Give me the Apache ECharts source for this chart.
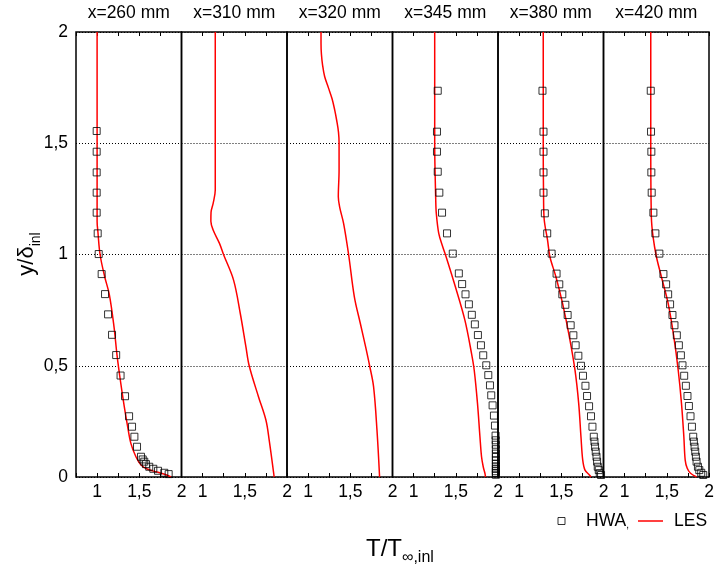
<!DOCTYPE html>
<html><head><meta charset="utf-8">
<script src="https://cdn.jsdelivr.net/npm/echarts@6/dist/echarts.min.js"></script>
<style>html,body{margin:0;padding:0;background:#fff}#c{width:714px;height:571px}</style>
</head><body><div id="c"></div>
<script>
const panelTitles = ['x=260 mm','x=310 mm','x=320 mm','x=345 mm','x=380 mm','x=420 mm'];
const xTickLabels = {1:'1', 1.5:'1,5', 2:'2'};
const yTickLabels = {0:'0', 0.5:'0,5', 1:'1', 1.5:'1,5', 2:'2'};

const hwa260 = [[0.995,1.555],[0.995,1.462],[0.995,1.369],[0.995,1.278],[0.995,1.188],[1.007,1.095],[1.019,1.002],[1.054,0.912],[1.094,0.822],[1.13,0.731],[1.177,0.639],[1.226,0.548],[1.278,0.456],[1.331,0.363],[1.379,0.273],[1.414,0.226],[1.442,0.181],[1.473,0.136],[1.52,0.091],[1.54,0.079],[1.559,0.069],[1.579,0.058],[1.618,0.046],[1.666,0.037],[1.722,0.028],[1.796,0.019],[1.848,0.013]];
const hwa310 = [];
const hwa320 = [];
const hwa345 = [[1.286,1.736],[1.277,1.552],[1.277,1.462],[1.286,1.372],[1.305,1.278],[1.337,1.188],[1.396,1.095],[1.464,1.004],[1.536,0.915],[1.575,0.867],[1.615,0.821],[1.655,0.776],[1.69,0.729],[1.726,0.686],[1.762,0.638],[1.798,0.592],[1.825,0.547],[1.861,0.502],[1.885,0.458],[1.905,0.412],[1.92,0.367],[1.936,0.322],[1.952,0.276],[1.964,0.231],[1.971,0.186],[1.973,0.165],[1.974,0.145],[1.975,0.125],[1.975,0.105],[1.975,0.09],[1.975,0.075],[1.975,0.06],[1.975,0.048],[1.975,0.036],[1.975,0.026],[1.975,0.018],[1.975,0.01]];
const hwa380 = [[1.277,1.736],[1.289,1.552],[1.289,1.462],[1.289,1.369],[1.289,1.278],[1.305,1.185],[1.333,1.095],[1.385,1.004],[1.444,0.914],[1.476,0.866],[1.512,0.821],[1.548,0.774],[1.575,0.728],[1.611,0.682],[1.643,0.637],[1.67,0.592],[1.702,0.545],[1.733,0.5],[1.757,0.455],[1.786,0.41],[1.805,0.364],[1.829,0.318],[1.852,0.273],[1.869,0.226],[1.885,0.181],[1.893,0.159],[1.9,0.136],[1.908,0.114],[1.917,0.091],[1.924,0.069],[1.932,0.046],[1.944,0.031],[1.956,0.017],[1.971,0.009]];
const hwa420 = [[1.31,1.736],[1.313,1.552],[1.317,1.462],[1.317,1.369],[1.321,1.278],[1.341,1.188],[1.365,1.095],[1.412,1.004],[1.46,0.912],[1.492,0.866],[1.516,0.821],[1.539,0.776],[1.567,0.728],[1.591,0.682],[1.619,0.637],[1.643,0.592],[1.667,0.547],[1.686,0.502],[1.706,0.455],[1.726,0.41],[1.745,0.364],[1.762,0.319],[1.781,0.273],[1.798,0.226],[1.813,0.181],[1.821,0.159],[1.829,0.136],[1.837,0.114],[1.845,0.091],[1.853,0.069],[1.869,0.046],[1.885,0.031],[1.908,0.019],[1.932,0.009]];

const les260 = [[1.0,2.0],[1.0,1.5],[1.0,1.15],[1.01,1.1],[1.035,1.0],[1.09,0.9],[1.145,0.82],[1.2,0.676],[1.236,0.548],[1.275,0.436],[1.322,0.316],[1.362,0.226],[1.40,0.151],[1.46,0.091],[1.52,0.054],[1.6,0.035],[1.72,0.021],[1.80,0.012],[1.876,0.0]];
const les310 = [[1.15,2.0],[1.15,1.5],[1.15,1.29],[1.125,1.23],[1.10,1.19],[1.098,1.15],[1.125,1.11],[1.20,1.05],[1.248,1.0],[1.367,0.885],[1.446,0.736],[1.513,0.586],[1.552,0.5],[1.662,0.361],[1.75,0.256],[1.789,0.166],[1.848,0.0]];
const les320 = [[1.153,2.0],[1.153,1.95],[1.158,1.9],[1.172,1.85],[1.196,1.8],[1.24,1.75],[1.284,1.7],[1.315,1.65],[1.34,1.6],[1.36,1.55],[1.367,1.5],[1.367,1.38],[1.358,1.26],[1.374,1.213],[1.421,1.139],[1.48,1.0],[1.548,0.81],[1.619,0.69],[1.681,0.586],[1.729,0.5],[1.776,0.405],[1.816,0.211],[1.847,0.0]];
const les345 = [[1.25,2.0],[1.25,1.5],[1.262,1.25],[1.269,1.185],[1.298,1.095],[1.345,1.035],[1.385,0.99],[1.495,0.855],[1.607,0.706],[1.686,0.556],[1.718,0.481],[1.757,0.331],[1.786,0.181],[1.805,0.091],[1.825,0.046],[1.845,0.017],[1.852,0.0]];
const les380 = [[1.286,2.0],[1.286,1.5],[1.29,1.25],[1.298,1.155],[1.337,1.065],[1.365,0.99],[1.436,0.9],[1.515,0.78],[1.595,0.631],[1.662,0.481],[1.706,0.331],[1.733,0.181],[1.754,0.076],[1.781,0.031],[1.833,0.009],[1.852,0.0]];
const les420 = [[1.31,2.0],[1.31,1.5],[1.317,1.17],[1.337,1.08],[1.377,0.99],[1.436,0.9],[1.516,0.78],[1.583,0.631],[1.635,0.481],[1.674,0.331],[1.702,0.181],[1.718,0.076],[1.742,0.039],[1.781,0.017],[1.853,0.0]];

const hwaSets = [hwa260, hwa310, hwa320, hwa345, hwa380, hwa420];
const lesSets = [les260, les310, les320, les345, les380, les420];

const FONT = '"Liberation Sans", Arial, Helvetica, sans-serif';
const FS = 17.5;
const L0 = 76, PW = 105.5, TOP = 32, PH = 445;
const grids = [], xAxes = [], yAxes = [], series = [], graphics = [];
for (let i = 0; i < 6; i++) {
  grids.push({left: L0 + i * PW, top: TOP, width: PW, height: PH, show: true,
    borderColor: '#000', borderWidth: 1.5, backgroundColor: 'transparent', containLabel: false, outerBoundsMode: 'none'});
  xAxes.push({type: 'value', gridIndex: i, position: 'bottom', min: 0.75, max: 2, interval: 0.25,
    axisLine: {show: false}, splitLine: {show: false},
    axisTick: {show: true, inside: true, length: 4, lineStyle: {color: '#000', width: 1}},
    axisLabel: {show: true, interval: 0, hideOverlap: false, margin: 6, color: '#000', fontSize: FS, fontFamily: FONT,
      formatter: v => xTickLabels[v] || ''}});
  xAxes.push({type: 'value', gridIndex: i, position: 'top', min: 0.75, max: 2, interval: 0.25,
    axisLine: {show: false}, splitLine: {show: false},
    axisTick: {show: true, inside: true, length: 4, lineStyle: {color: '#000', width: 1}},
    axisLabel: {show: false}});
  yAxes.push({type: 'value', gridIndex: i, min: 0, max: 2, interval: 0.5,
    axisLine: {show: false}, axisTick: {show: false},
    splitLine: {show: true, lineStyle: {color: '#000', width: 1, type: [1, 2]}},
    axisLabel: {show: i === 0, margin: 8, color: '#000', fontSize: FS, fontFamily: FONT,
      formatter: v => yTickLabels[v] !== undefined ? yTickLabels[v] : ''}});
  series.push({name: 'LES', type: 'line', xAxisIndex: 2 * i, yAxisIndex: i, data: lesSets[i],
    symbol: 'none', showSymbol: false, smooth: 0.35, z: 2,
    lineStyle: {color: '#ff0000', width: 1.5}, itemStyle: {color: '#ff0000'}});
  if (hwaSets[i].length) {
    series.push({name: 'HWA', type: 'scatter', xAxisIndex: 2 * i, yAxisIndex: i, data: hwaSets[i],
      symbol: 'rect', symbolSize: 7, z: 3,
      itemStyle: {color: 'rgba(0,0,0,0)', borderColor: '#000', borderWidth: 1}});
  }
  graphics.push({type: 'text', x: L0 + i * PW + PW / 2, y: 13,
    style: {text: panelTitles[i], fill: '#000', fontSize: FS, fontFamily: FONT, align: 'center', verticalAlign: 'middle'}});
}
graphics.push({type: 'text', x: 366, y: 549,
  style: {text: '{a|T/T}{b|∞,inl}', align: 'left', verticalAlign: 'middle',
    rich: {a: {fontSize: 24, fontFamily: FONT, fill: '#000', lineHeight: 34},
           b: {fontSize: 16, fontFamily: FONT, fill: '#000', lineHeight: 16, verticalAlign: 'bottom'}}}});
graphics.push({type: 'text', x: 27, y: 254, rotation: Math.PI / 2,
  style: {text: '{a|y/δ}{b|inl}', align: 'center', verticalAlign: 'middle',
    rich: {a: {fontSize: 22, fontFamily: FONT, fill: '#000', lineHeight: 32},
           b: {fontSize: 14, fontFamily: FONT, fill: '#000', lineHeight: 14, verticalAlign: 'bottom'}}}});

const chart = echarts.init(document.getElementById('c'), null, {renderer: 'canvas'});
chart.setOption({
  animation: false,
  backgroundColor: '#fff',
  grid: grids, xAxis: xAxes, yAxis: yAxes, series: series, graphic: graphics,
  legend: [
    {data: [{name: 'HWA', icon: 'rect', itemStyle: {color: 'rgba(0,0,0,0)', borderColor: '#000', borderWidth: 1}}],
      left: 557.5, top: 512, padding: 0, itemWidth: 7, itemHeight: 7, selectedMode: false,
      formatter: () => '{a|HWA}{b|,}',
      textStyle: {color: '#000', fontSize: FS, fontFamily: FONT, padding: [0, 0, 0, 16],
        rich: {a: {fontSize: FS, fontFamily: FONT, color: '#000'}, b: {fontSize: 10, fontFamily: FONT, color: '#000', verticalAlign: 'bottom', lineHeight: 12}}}},
    {data: [{name: 'LES', icon: 'rect', itemStyle: {color: '#ff0000', borderWidth: 0}}],
      left: 638, top: 512, padding: 0, itemWidth: 25, itemHeight: 1.5, selectedMode: false,
      textStyle: {color: '#000', fontSize: FS, fontFamily: FONT, padding: [0, 0, 0, 6]}}
  ]
});
</script></body></html>
